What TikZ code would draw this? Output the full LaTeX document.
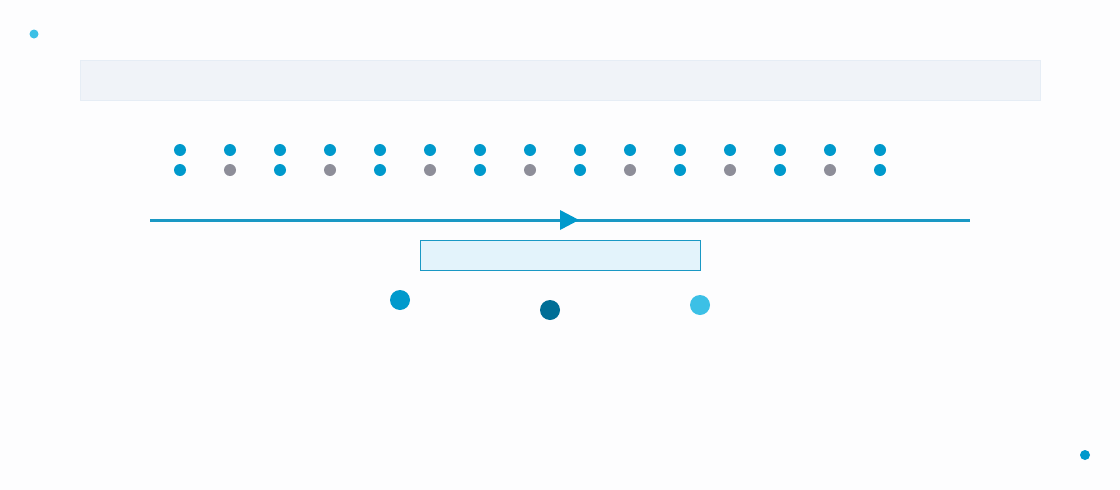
\documentclass[tikz,border=0pt]{standalone}
\definecolor{bg}{HTML}{FDFDFE}
\definecolor{band}{HTML}{F0F3F8}
\definecolor{bandline}{HTML}{E6EDF5}
\definecolor{tlblue}{HTML}{0099CC}
\definecolor{tlline}{HTML}{1A98C4}
\definecolor{tlgray}{HTML}{8E8E99}
\definecolor{tldark}{HTML}{006E96}
\definecolor{tllight}{HTML}{3CC0E6}
\definecolor{boxfill}{HTML}{E3F3FB}
\begin{document}
\begin{tikzpicture}[x=1pt, y=-1pt,
    dot/.style={fill=#1, draw=none},
    ball/.style={circle, fill=#1, draw=none, minimum size=20pt, inner sep=0pt}]
    \fill [bg] (0,0) rectangle (1120,490) ;
    \useasboundingbox (0,0) rectangle (1120,490) ;
    \fill [tllight] (34,34) circle (4.5) ;
    \draw [bandline, fill=band] (80,60) rectangle (1040,100) ;
    \foreach \i in {0,...,14} {
        \fill [tlblue] (180+50*\i,150) circle (6) ;
        \pgfmathsetmacro{\rem}{mod(\i,2)}
        \ifdim \rem pt=0pt
            \fill [tlblue] (180+50*\i,170) circle (6) ;
        \else
            \fill [tlgray] (180+50*\i,170) circle (6) ;
        \fi
    }
    \draw [tlline, line width=3pt] (150,220) -- (970,220) ;
    \fill [tlblue] (560,210) -- (579,220) -- (560,230) -- cycle ;
    \draw [tlline, fill=boxfill, line width=1pt] (420,240) rectangle (700,270) ;
    \node [ball=tlblue] (start) at (400,300) {} ;
    \node [ball=tldark] (mid) at (550,310) {} ;
    \node [ball=tllight] (end) at (700,305) {} ;
    \fill [tlblue] (1085,455) circle (5) ;
\end{tikzpicture}
\end{document}
